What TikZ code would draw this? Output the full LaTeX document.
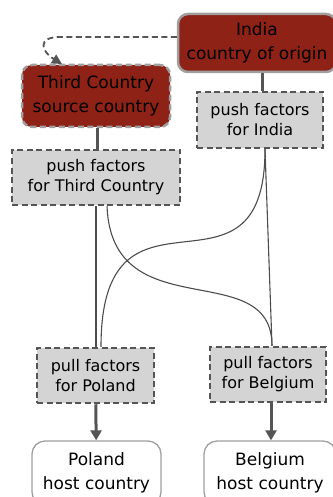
\documentclass[tikz,border=0pt]{standalone}
\usepackage{fontspec}
\setmainfont{DejaVu Sans}
\usetikzlibrary{arrows.meta}
\definecolor{origred}{HTML}{8E2216}
\definecolor{factgray}{HTML}{D4D4D4}
\definecolor{edgegray}{HTML}{555555}

\begin{document}
\begin{tikzpicture}[x=1pt,y=-1pt,
  every node/.style={align=center,inner sep=0pt,text=black},
  origin/.style={draw=gray!75,line width=2.5pt,fill=origred,rounded corners=10pt,
    font=\fontsize{17}{24}\selectfont},
  factor/.style={draw=edgegray,line width=2.5pt,dash pattern=on 6pt off 3.5pt,fill=factgray,
    font=\fontsize{16}{20}\selectfont},
  host/.style={draw=gray!75,line width=1.3pt,fill=white,rounded corners=13pt,
    font=\fontsize{17}{24}\selectfont},
  flow/.style={draw=gray!60!black,line width=1.1pt},
  link/.style={draw=edgegray,line width=3pt},
  move/.style={link,-{Triangle[length=10pt,width=11pt]}}]
\useasboundingbox (0,0) rectangle (332,497);

\node[origin,minimum width=158pt,minimum height=58pt] (india) at (257,43) {India\\country of origin};
\node[origin,dash pattern=on 6pt off 3.5pt,minimum width=148pt,minimum height=62pt] (third) at (96,96) {Third Country\\source country};
\node[factor,minimum width=126pt,minimum height=56pt] (pushin) at (260,120) {push factors\\for India};
\node[factor,minimum width=168pt,minimum height=55pt] (pushtc) at (96,177.5) {push factors\\for Third Country};
\node[factor,minimum width=117pt,minimum height=55pt] (pullpl) at (95.5,375.5) {pull factors\\for Poland};
\node[factor,minimum width=116pt,minimum height=55pt] (pullbe) at (268,374.5) {pull factors\\for Belgium};
\node[host,minimum width=129pt,minimum height=64pt] (poland) at (96.5,473) {Poland\\host country};
\node[host,minimum width=132pt,minimum height=64pt] (belgium) at (270,473) {Belgium\\host country};

\draw[edgegray,line width=1.8pt,dash pattern=on 6pt off 3.5pt,-{Triangle[length=10pt,width=10pt]}]
  (india.west |- 0,37) -- (60,37) .. controls (36,37) and (42,52) .. (62,64);
\draw[link] (india.south -| 262,0) -- (pushin.north -| 262,0);
\draw[link] (third.south -| 97,0) -- (pushtc.north -| 97,0);

\draw[flow] (pushtc.south -| 96,0) -- (pullpl.north -| 96,0);
\draw[flow] (pushtc.south -| 107,0) .. controls (112,330) and (272,255) .. (pullbe.north -| 272,0);
\draw[flow] (pushin.south -| 265,0) -- (pullbe.north -| 272,0);
\draw[flow] (pushin.south -| 265,0) .. controls (265,320) and (101,160) .. (pullpl.north -| 101,0);

\draw[move] (pullpl) -- (poland);
\draw[move] (pullbe.south -| 271,0) -- (belgium.north -| 271,0);
\end{tikzpicture}
\end{document}
